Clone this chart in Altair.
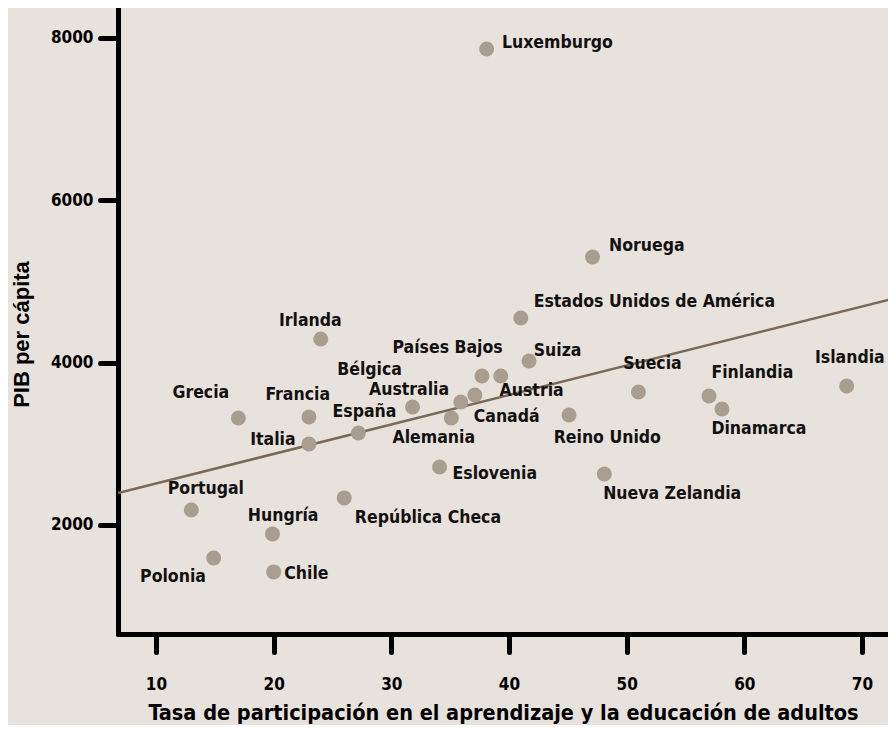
import altair as alt
import pandas as pd

countries = ["Luxemburgo", "Noruega", "Estados Unidos de América", "Irlanda", "Suiza",
             "Países Bajos", "Austria", "Bélgica", "Canadá", "Alemania", "Australia",
             "España", "Italia", "Francia", "Grecia", "Eslovenia", "Suecia", "Finlandia",
             "Dinamarca", "Islandia", "Reino Unido", "Nueva Zelandia", "Portugal",
             "Hungría", "Polonia", "Chile", "República Checa"]
participation = [38.1, 47.1, 41.0, 24.0, 41.7,
                 37.7, 39.3, 37.1, 35.9, 35.1, 31.8,
                 27.2, 23.0, 23.0, 17.0, 34.1, 51.0, 57.0,
                 58.1, 68.7, 45.1, 48.1, 13.0,
                 19.9, 14.9, 20.0, 26.0]
gdp = [7864, 5301, 4550, 4291, 4020,
       3835, 3835, 3601, 3515, 3318, 3453,
       3133, 2997, 3330, 3318, 2713, 3638, 3589,
       3429, 3712, 3355, 2628, 2184,
       1889, 1593, 1421, 2333]
# label anchor (left edge, vertical centre) in data units
label_x = [39.4, 48.5, 42.1, 20.45, 42.1,
           30.1, 39.2, 25.4, 37.0, 30.1, 28.1,
           25.0, 18.0, 19.3, 11.4, 35.2, 49.7, 57.2,
           57.2, 66.0, 43.8, 48.0, 11.0,
           17.8, 8.65, 20.9, 26.9]
label_y = [7938, 5437, 4747, 4513, 4143,
           4180, 3650, 3909, 3331, 3072, 3663,
           3392, 3048, 3601, 3626, 2628, 3983, 3872,
           3182, 4057, 3072, 2381, 2442,
           2110, 1359, 1396, 2085]
trend_x = [6.77, 72.89]
trend_y = [2394, 4796]
x_ticks = [10, 20, 30, 40, 50, 60, 70]
y_ticks = [2000, 4000, 6000, 8000]

df = pd.DataFrame({"pais": countries, "x": participation, "y": gdp,
                   "lx": label_x, "ly": label_y})
tr = pd.DataFrame({"x": trend_x, "y": trend_y})

BG = "#e8e2dc"
NARROW = "DejaVu Sans Condensed, DejaVu Sans, sans-serif"

xscale = alt.Scale(domain=[6.77, 72.21], nice=False, zero=False)
yscale = alt.Scale(domain=[656, 8369], nice=False, zero=False)

xaxis = alt.Axis(values=x_ticks, format="d",
                 title="Tasa de participación en el aprendizaje y la educación de adultos",
                 grid=False, domainColor="black", domainWidth=5, tickColor="black",
                 tickWidth=5, tickSize=18, tickCap="round", domainCap="round",
                 labelFont=NARROW, labelFontSize=17, labelFontWeight="bold", labelColor="black",
                 labelPadding=24, titleFont=NARROW, titleFontSize=21.5, titleFontWeight="bold",
                 titleColor="black", titleBaseline="alphabetic", titleY=85)
yaxis = alt.Axis(values=y_ticks, format="d", title="PIB per cápita", grid=False,
                 domainColor="black", domainWidth=5, tickColor="black", tickWidth=5,
                 tickSize=18, tickCap="round", domainCap="round",
                 labelFont=NARROW, labelFontSize=17, labelFontWeight="bold", labelColor="black",
                 labelPadding=7, titleFont="Liberation Sans, Arial, sans-serif", titleFontSize=22,
                 titleFontWeight="bold", titleColor="black", titleBaseline="alphabetic",
                 titleAlign="center", titleAngle=270, titleX=-90, titleY=326)

points = alt.Chart(df).mark_circle(size=225, color="#a89d8f", opacity=1).encode(
    x=alt.X("x:Q", scale=xscale, axis=xaxis),
    y=alt.Y("y:Q", scale=yscale, axis=yaxis),
)
line = alt.Chart(tr).mark_line(color="#7b6852", strokeWidth=2.5, clip=True).encode(
    x=alt.X("x:Q", scale=xscale), y=alt.Y("y:Q", scale=yscale)
)
labels = alt.Chart(df).mark_text(align="left", baseline="middle", font=NARROW,
                                 fontSize=17.5, fontWeight="bold", color="#111111").encode(
    x=alt.X("lx:Q", scale=xscale), y=alt.Y("ly:Q", scale=yscale), text="pais:N"
)

chart = alt.layer(line, points, labels).properties(
    width=770, height=626,
    autosize=alt.AutoSizeParams(type="none"),
    padding={"left": 110, "top": 0, "right": 0, "bottom": 91},
    background=BG,
).configure_view(strokeWidth=0)

chart.save("out.html", embed_options={"renderer": "svg", "actions": False})
